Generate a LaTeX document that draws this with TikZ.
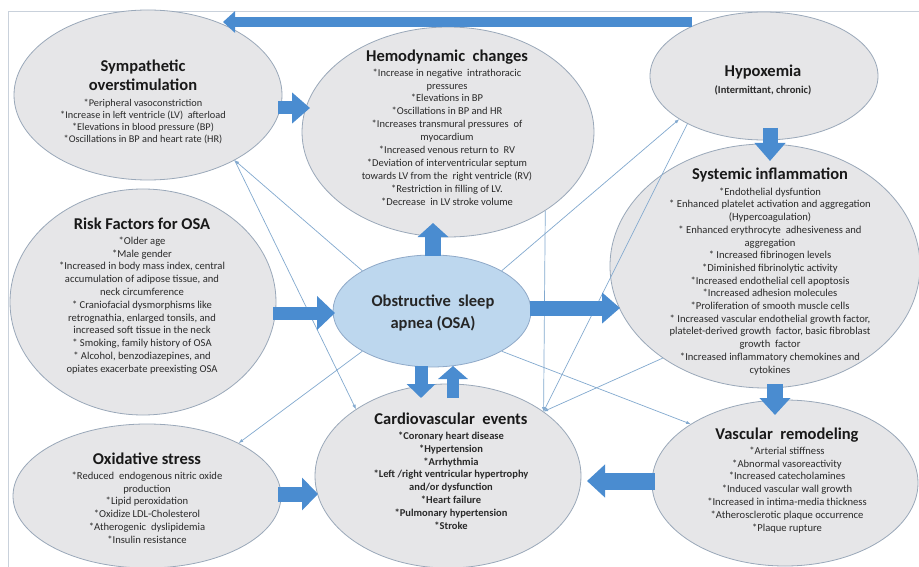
\documentclass[tikz,border=0pt]{standalone}
\usepackage{fontspec}
\setmainfont{Carlito}
\usetikzlibrary{shapes.geometric,arrows.meta}
\definecolor{ellfill}{HTML}{E6E6E8}
\definecolor{elldraw}{HTML}{9AA8B9}
\definecolor{osafill}{HTML}{BDD7EE}
\definecolor{osadraw}{HTML}{8FA9C8}
\definecolor{blkcol}{HTML}{4A8CD0}
\definecolor{thincol}{HTML}{82A9CF}
\definecolor{bodytxt}{HTML}{2A2A2A}
\definecolor{frmcol}{HTML}{C9D1DB}
\begin{document}
\begin{tikzpicture}[x=1pt,y=-1pt,
 ell/.style={ellipse,draw=elldraw,fill=ellfill,line width=0.8pt,inner sep=0pt},
 osaell/.style={ellipse,draw=osadraw,fill=osafill,line width=0.8pt,inner sep=0pt},
 ttl/.style={font=\fontsize{16.5}{19}\selectfont\bfseries,text=black!90,align=center,inner sep=0pt,anchor=north},
 bdy/.style={font=\fontsize{10.6}{12.8}\selectfont,text=bodytxt,align=center,inner sep=0pt,anchor=north},
 blkarrow/.style args={#1/#2/#3}{draw=blkcol,line width=#1pt,-{Triangle[width=#2pt,length=#3pt]}},
 thinarrow/.style={draw=thincol,line width=0.7pt,-{Latex[length=4.5pt,width=3.5pt]}},
]
\useasboundingbox (0,0) rectangle (919,567);
\fill[white] (0,0) rectangle (919,567);
\draw[frmcol,line width=0.8pt] (8,567) -- (8,11) -- (919,11);

% ellipses
\node[ell,minimum width=268pt,minimum height=170pt] (symp) at (148,95) {};
\node[ell,minimum width=292pt,minimum height=210pt] (hemo) at (448,132) {};
\node[ell,minimum width=228pt,minimum height=128pt] (hypox) at (764,76) {};
\node[ell,minimum width=310pt,minimum height=244pt] (sys) at (765,266) {};
\node[ell,minimum width=266pt,minimum height=226pt] (risk) at (143,302) {};
\node[ell,minimum width=268pt,minimum height=144pt] (oxid) at (147,496) {};
\node[ell,minimum width=266pt,minimum height=184pt] (cv) at (448,476) {};
\node[ell,minimum width=266pt,minimum height=166pt] (vasc) at (785,483) {};
\node[osaell,minimum width=198pt,minimum height=112pt] (osa) at (432,311) {};

% thin connectors
\draw[thinarrow] (osa.150) -- (symp.-37);
\draw[thinarrow] (symp.-37) -- (cv.144);
\draw[thinarrow] (osa.210) -- (oxid.30);
\draw[thinarrow] (osa.30) -- (hypox.207);
\draw[thinarrow] (hypox.212) -- (cv.34);
\draw[thinarrow] (hemo.-39) -- (cv.34);
\draw[thinarrow] (sys.222) -- (cv.34);
\draw[thinarrow] (osa.-30) -- (vasc.148);

% block arrow end points
\coordinate (hx-l) at (692,22);   \coordinate (sy-t) at (223,22);
\coordinate (sy-r) at (278,108);  \coordinate (he-l) at (310,108);
\coordinate (os-t) at (433,256);  \coordinate (he-b) at (433,223);
\coordinate (ri-r) at (273,313);  \coordinate (os-l) at (335,313);
\coordinate (os-r) at (530,308);  \coordinate (si-l) at (620,308);
\coordinate (os-b) at (421,366);  \coordinate (cv-t) at (421,398);
\coordinate (cv-t2) at (453,398); \coordinate (os-b2) at (453,366);
\coordinate (hx-b) at (770,128);  \coordinate (si-t) at (770,161);
\coordinate (si-b) at (775,384);  \coordinate (va-t) at (775,415);
\coordinate (va-l) at (655,481);  \coordinate (cv-r) at (587,481);
\coordinate (ox-r) at (278,494);  \coordinate (cv-l) at (318,494);

% block arrows
\draw[blkarrow=10/21/12] (hx-l) -- (sy-t);
\draw[blkarrow=13/30/18] (sy-r) -- (he-l);
\draw[blkarrow=16/30/14] (os-t) -- (he-b);
\draw[blkarrow=13/33/18] (ri-r) -- (os-l);
\draw[blkarrow=15/30/18] (os-r) -- (si-l);
\draw[blkarrow=13/28/14] (os-b) -- (cv-t);
\draw[blkarrow=12/29/13] (cv-t2) -- (os-b2);
\draw[blkarrow=15/30/18] (hx-b) -- (si-t);
\draw[blkarrow=16/30/17] (si-b) -- (va-t);
\draw[blkarrow=17/32/18] (va-l) -- (cv-r);
\draw[blkarrow=15/32/16] (ox-r) -- (cv-l);

% texts
\node[ttl] (symp-t) at (143,60) {Sympathetic\\overstimulation};
\node[bdy,font=\fontsize{10.3}{12.3}\selectfont] (symp-b) at (143,98.5) {*Peripheral vasoconstriction\\*Increase in left ventricle (LV)\ \ afterload\\*Elevations in blood pressure (BP)\\*Oscillations in BP and heart rate (HR)};

\node[ttl] (hemo-t) at (447,50) {Hemodynamic\ \ changes};
\node[bdy,font=\fontsize{10.5}{12.9}\selectfont] (hemo-b) at (447,68.5) {*Increase in negative\ \ intrathoracic\\pressures\\*Elevations in BP\\*Oscillations in BP and HR\\*Increases transmural pressures\ \ of\\myocardium\\*Increased venous return to\ \ RV\\*Deviation of interventricular septum\\towards LV from the\ \ right ventricle (RV)\\*Restriction in filling of LV.\\*Decrease\ \ in LV stroke volume};

\node[ttl] (hypox-t) at (763,65) {Hypoxemia};
\node[bdy,font=\fontsize{10.5}{12}\selectfont\bfseries] (hypox-b) at (763,85.5) {(Intermittant, chronic)};

\node[ttl] (sys-t) at (770,168) {Systemic inflammation};
\node[bdy,font=\fontsize{10.6}{12.7}\selectfont] (sys-b) at (770,187.5) {*Endothelial dysfuntion\\* Enhanced platelet activation and aggregation\\(Hypercoagulation)\\* Enhanced erythrocyte\ \ adhesiveness and\\aggregation\\* Increased fibrinogen levels\\*Diminished fibrinolytic activity\\*Increased endothelial cell apoptosis\\*Increased adhesion molecules\\*Proliferation of smooth muscle cells\\* Increased vascular endothelial growth factor,\\platelet-derived growth\ \ factor, basic fibroblast\\growth\ \ factor\\*Increased inflammatory chemokines and\\cytokines};

\node[ttl] (risk-t) at (142,218) {Risk Factors for OSA};
\node[bdy] (risk-b) at (142,236.5) {*Older age\\*Male gender\\*Increased in body mass index, central\\accumulation of adipose tissue, and\\neck circumference\\* Craniofacial dysmorphisms like\\retrognathia, enlarged tonsils, and\\increased soft tissue in the neck\\* Smoking, family history of OSA\\* Alcohol, benzodiazepines, and\\opiates exacerbate preexisting OSA};

\node[ttl,font=\fontsize{16.5}{22}\selectfont\bfseries,text=black!85] (osa-t) at (433,295) {Obstructive\ \ sleep\\apnea (OSA)};

\node[ttl] (oxid-t) at (147,453) {Oxidative stress};
\node[bdy] (oxid-b) at (147,471.5) {*Reduced\ \ endogenous nitric oxide\\production\\*Lipid peroxidation\\*Oxidize LDL-Cholesterol\\*Atherogenic\ \ dyslipidemia\\*Insulin resistance};

\node[ttl] (cv-tt) at (451,413) {Cardiovascular\ \ events};
\node[bdy,font=\fontsize{10.5}{12.9}\selectfont\bfseries] (cv-b) at (451,431.5) {*Coronary heart disease\\*Hypertension\\*Arrhythmia\\*Left /right ventricular hypertrophy\\and/or dysfunction\\*Heart failure\\*Pulmonary hypertension\\*Stroke};

\node[ttl] (vasc-t) at (787,428) {Vascular\ \ remodeling};
\node[bdy] (vasc-b) at (787,446.5) {*Arterial stiffness\\*Abnormal vasoreactivity\\*Increased catecholamines\\*Induced vascular wall growth\\*Increased in intima-media thickness\\*Atherosclerotic plaque occurrence\\*Plaque rupture};
\end{tikzpicture}
\end{document}
